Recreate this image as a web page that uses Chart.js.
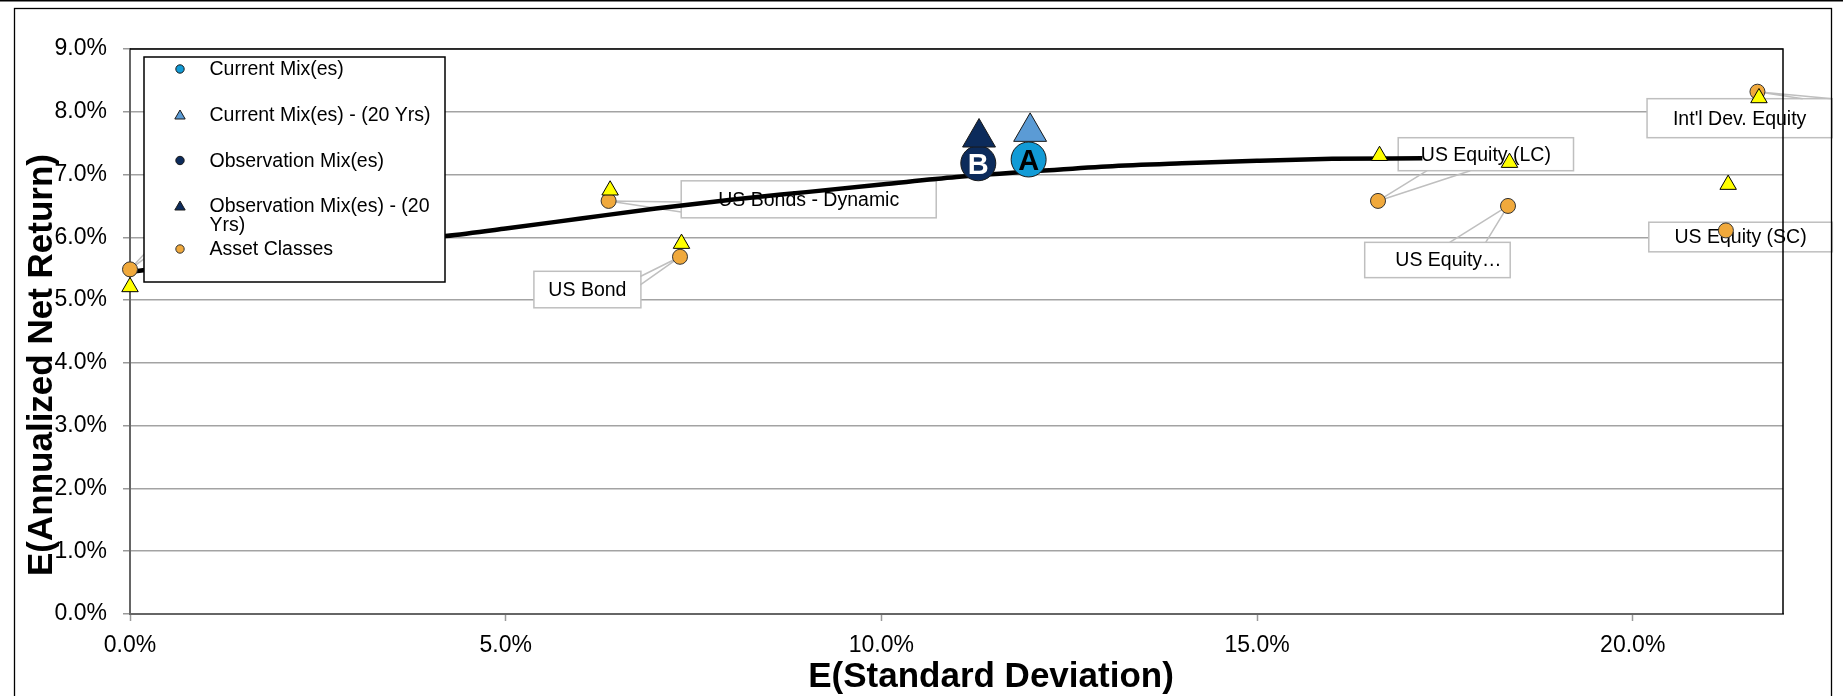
<!DOCTYPE html>
<html>
<head>
<meta charset="utf-8">
<script src="https://cdn.jsdelivr.net/npm/chart.js@4.4.1/dist/chart.umd.min.js"></script>
<style>
  html, body { margin: 0; padding: 0; background: #fff; }
  #wrap { width: 1843px; height: 696px; position: relative; }
</style>
</head>
<body>
<div id="wrap"><canvas id="chart" width="1843" height="696"></canvas></div>
<script>
// ---- Data: expected standard deviation (%) vs expected annualized net return (%) ----
const assetNames = ['', 'US Bonds - Dynamic', 'US Bond', 'US Equity (LC)', 'US Equity\u2026', 'US Equity (SC)', "Int'l Dev. Equity"];
const assetSD    = [0.00, 6.37, 7.32, 16.61, 18.34, 21.24, 21.66];
const assetRet   = [5.49, 6.58, 5.69, 6.58, 6.50, 6.11, 8.32];
const asset20SD  = [0.00, 6.39, 7.34, 16.63, 18.36, 21.27, 21.68];
const asset20Ret = [5.21, 6.75, 5.90, 7.30, 7.19, 6.84, 8.22];

const currentMixSD    = [11.96];
const currentMixRet   = [7.24];
const current20SD     = [11.98];
const current20Ret    = [7.68];
const observationSD   = [11.29];
const observationRet  = [7.18];
const observation20SD = [11.30];
const observation20Ret = [7.59];
const currentLetters = ['A'];
const observationLetters = ['B'];

const frontierSD  = [0, 2, 4.2, 5, 6, 7, 8, 9, 10, 11, 12, 13, 14, 15, 16, 17.2];
const frontierRet = [5.45, 5.76, 6.02, 6.14, 6.30, 6.46, 6.60, 6.72, 6.84, 6.96, 7.05, 7.13, 7.18, 7.22, 7.25, 7.26];

const xTickValues = [0, 5, 10, 15, 20];
const xTickLabels = ['0.0%', '5.0%', '10.0%', '15.0%', '20.0%'];
const yTickValues = [0, 1, 2, 3, 4, 5, 6, 7, 8, 9];
const yTickLabels = ['0.0%', '1.0%', '2.0%', '3.0%', '4.0%', '5.0%', '6.0%', '7.0%', '8.0%', '9.0%'];

const xTitle = 'E(Standard Deviation)';
const yTitle = 'E(Annualized Net Return)';

// ---- Layout / styling (pixel offsets of callout boxes relative to their point) ----
const FONT = '"Liberation Sans", Arial, Helvetica, sans-serif';
const labelLayout = [
  { wedge: [[30, -32], [36, -27]] },
  { box: [72.6, -20.1, 255, 37],    wedge: [[72.6, 1], [72.6, 11]] },
  { box: [-146.1, 14.5, 107, 36.5], wedge: [[-39.7, 19.7], [-39.7, 28]] },
  { box: [20.2, -63.2, 175.3, 33],  wedge: [[49, -30.2], [92.3, -30.2]] },
  { box: [-143.3, 36.4, 145.5, 35.3], wedge: [[-58.3, 36.4], [-22.3, 36.4]], textDx: 11 },
  { box: [-77.1, -8.2, 183.5, 29.6] },
  { box: [-110.4, 7, 185.2, 39],    wedge: [[45.3, 7], [74.8, 7]] }
];
const legendLayout = { x: 144, y: 57, w: 301, h: 225, markerX: 180, textX: 209.5,
                       rows: [69, 114.5, 160.5, 205.5, 249], lineH: 18.7, maxW: 232 };
const titleLayout = { xCenter: 991, xBaseline: 687, yCenter: 365, yBaseline: 51.5 };

const pts = (xs, ys) => xs.map((x, i) => ({ x, y: ys[i] }));

const datasets = [
  { label: 'Current Mix(es)', data: pts(currentMixSD, currentMixRet),
    pointStyle: 'circle', pointRadius: 17.5, pointBackgroundColor: '#129bd6',
    pointBorderColor: '#1a1a1a', pointBorderWidth: 1, order: 4, legend: true },
  { label: 'Current Mix(es) - (20 Yrs)', data: pts(current20SD, current20Ret),
    pointStyle: 'triangle', pointRadius: 19, pointBackgroundColor: '#5b9bd5',
    pointBorderColor: '#1a1a1a', pointBorderWidth: 1, order: 3, legend: true },
  { label: 'Observation Mix(es)', data: pts(observationSD, observationRet),
    pointStyle: 'circle', pointRadius: 17.5, pointBackgroundColor: '#0c2b5b',
    pointBorderColor: '#1a1a1a', pointBorderWidth: 1, order: 2, legend: true },
  { label: 'Observation Mix(es) - (20 Yrs)', data: pts(observation20SD, observation20Ret),
    pointStyle: 'triangle', pointRadius: 19, pointBackgroundColor: '#0c2b5b',
    pointBorderColor: '#1a1a1a', pointBorderWidth: 1, order: 1, legend: true },
  { label: 'Asset Classes', data: pts(assetSD, assetRet),
    pointStyle: 'circle', pointRadius: 7.5, pointBackgroundColor: '#f0a93c',
    pointBorderColor: '#333333', pointBorderWidth: 1, order: 6, legend: true },
  { label: 'Asset Classes - (20 Yrs)', data: pts(asset20SD, asset20Ret),
    pointStyle: 'triangle', pointRadius: 9.5, pointBackgroundColor: '#ffff00',
    pointBorderColor: '#000000', pointBorderWidth: 1, order: 5, legend: false },
  { label: 'Efficient Frontier', data: pts(frontierSD, frontierRet),
    showLine: true, pointRadius: 0, borderColor: '#000000', borderWidth: 4.5,
    cubicInterpolationMode: 'monotone', order: 10, legend: false }
];
const ASSET_DS = 4;
const letterSets = [
  { ds: 0, letters: currentLetters, color: '#000000' },
  { ds: 2, letters: observationLetters, color: '#ffffff' }
];

function marker(c, style, x, y, r, fill, stroke) {
  c.beginPath();
  if (style === 'triangle') {
    let rad = 0;
    for (let k = 0; k < 3; k++) {
      const px = x + Math.sin(rad) * r, py = y - Math.cos(rad) * r;
      if (k === 0) c.moveTo(px, py); else c.lineTo(px, py);
      rad += 2 * Math.PI / 3;
    }
    c.closePath();
  } else {
    c.arc(x, y, r, 0, Math.PI * 2);
  }
  c.fillStyle = fill; c.fill();
  c.strokeStyle = stroke; c.lineWidth = 1; c.stroke();
}

function wrapWords(c, text, maxW) {
  const words = text.split(' ');
  const lines = [];
  let cur = '';
  words.forEach(w => {
    const t = cur ? cur + ' ' + w : w;
    if (cur && c.measureText(t).width > maxW) { lines.push(cur); cur = w; } else { cur = t; }
  });
  if (cur) lines.push(cur);
  return lines;
}

const decorations = {
  id: 'decorations',
  beforeDraw(chart) {
    const c = chart.ctx;
    c.save();
    c.fillStyle = '#ffffff';
    c.fillRect(0, 0, chart.width, chart.height);
    c.restore();
  },
  beforeDatasetsDraw(chart) {
    // callout boxes and leader lines for the asset classes
    const c = chart.ctx;
    const meta = chart.getDatasetMeta(ASSET_DS);
    c.save();
    labelLayout.forEach((L, i) => {
      const p = meta.data[i];
      const px = p.x, py = p.y;
      c.strokeStyle = '#bfbfbf';
      c.lineWidth = 1.5;
      if (L.box) {
        const [dx, dy, w, h] = L.box;
        c.fillStyle = '#ffffff';
        c.fillRect(px + dx, py + dy, w, h);
        c.strokeRect(px + dx, py + dy, w, h);
        if (assetNames[i]) {
          c.fillStyle = '#000000';
          c.font = '19.5px ' + FONT;
          c.textAlign = 'center';
          c.textBaseline = 'middle';
          c.fillText(assetNames[i], px + dx + w / 2 + (L.textDx || 0), py + dy + h / 2 + 1);
        }
      }
      if (L.wedge) {
        c.beginPath();
        L.wedge.forEach(([wx, wy]) => { c.moveTo(px, py); c.lineTo(px + wx, py + wy); });
        c.stroke();
      }
    });
    c.restore();
  },
  afterDatasetsDraw(chart) {
    const c = chart.ctx;
    const a = chart.chartArea;
    c.save();
    // plot frame: top and right edges
    c.strokeStyle = '#000000';
    c.lineWidth = 1.5;
    c.beginPath();
    c.moveTo(a.left, a.top); c.lineTo(a.right, a.top); c.lineTo(a.right, a.bottom);
    c.stroke();

    // letters on the mix markers
    c.font = 'bold 29px ' + FONT;
    c.textAlign = 'center';
    c.textBaseline = 'middle';
    letterSets.forEach(s => {
      chart.getDatasetMeta(s.ds).data.forEach((p, j) => {
        c.fillStyle = s.color;
        c.fillText(s.letters[j], p.x, p.y + 3);
      });
    });

    // legend
    const L = legendLayout;
    c.fillStyle = '#ffffff';
    c.fillRect(L.x, L.y, L.w, L.h);
    c.strokeStyle = '#000000';
    c.lineWidth = 1.5;
    c.strokeRect(L.x, L.y, L.w, L.h);
    c.font = '19.5px ' + FONT;
    c.textAlign = 'left';
    c.textBaseline = 'middle';
    let row = 0;
    chart.data.datasets.forEach(ds => {
      if (!ds.legend) return;
      const y = L.rows[row++];
      const tri = ds.pointStyle === 'triangle';
      marker(c, ds.pointStyle, L.markerX, tri ? y + 1.5 : y, tri ? 6 : 4.2, ds.pointBackgroundColor, ds.pointBorderColor);
      c.fillStyle = '#000000';
      wrapWords(c, ds.label, L.maxW).forEach((line, k) => c.fillText(line, L.textX, y + k * L.lineH + 1));
    });

    // axis titles
    c.fillStyle = '#000000';
    c.font = 'bold 35px ' + FONT;
    c.textAlign = 'center';
    c.textBaseline = 'alphabetic';
    c.fillText(xTitle, titleLayout.xCenter, titleLayout.xBaseline);
    c.translate(titleLayout.yBaseline, titleLayout.yCenter);
    c.rotate(-Math.PI / 2);
    c.fillText(yTitle, 0, 0);
    c.restore();

    // outer frame
    c.save();
    c.strokeStyle = '#000000';
    c.lineWidth = 1.3;
    c.strokeRect(14.5, 8.5, 1817, 720);
    c.fillStyle = '#000000';
    c.fillRect(0, 0, chart.width, 1.5);
    c.restore();
  }
};

new Chart(document.getElementById('chart'), {
  type: 'scatter',
  data: { datasets: datasets.map(d => Object.assign({ clip: false }, d)) },
  options: {
    responsive: false,
    devicePixelRatio: 1,
    animation: false,
    events: [],
    layout: { padding: { left: 0, top: 49, right: 60, bottom: 0 } },
    plugins: { legend: { display: false }, tooltip: { enabled: false } },
    scales: {
      x: {
        type: 'linear', min: 0, max: 22,
        afterBuildTicks: s => { s.ticks = xTickValues.map(v => ({ value: v })); },
        afterFit: s => { s.height = 82; },
        ticks: {
          callback: v => { const i = xTickValues.indexOf(v); return i >= 0 ? xTickLabels[i] : ''; },
          font: { family: FONT, size: 23 }, color: '#000000', padding: 11, maxRotation: 0
        },
        grid: { drawOnChartArea: false, drawTicks: true, tickLength: 7, tickColor: '#999999', tickWidth: 1.5 },
        border: { display: true, color: '#666666', width: 2 }
      },
      y: {
        type: 'linear', min: 0, max: 9,
        afterBuildTicks: s => { s.ticks = yTickValues.map(v => ({ value: v })); },
        afterFit: s => { s.width = 130; },
        ticks: {
          callback: v => { const i = yTickValues.indexOf(v); return i >= 0 ? yTickLabels[i] : ''; },
          font: { family: FONT, size: 23 }, color: '#000000', padding: 16
        },
        grid: { color: '#a3a3a3', lineWidth: 1.5, drawTicks: true, tickLength: 7, tickColor: '#999999' },
        border: { display: true, color: '#666666', width: 2 }
      }
    }
  },
  plugins: [decorations]
});
</script>
</body>
</html>
